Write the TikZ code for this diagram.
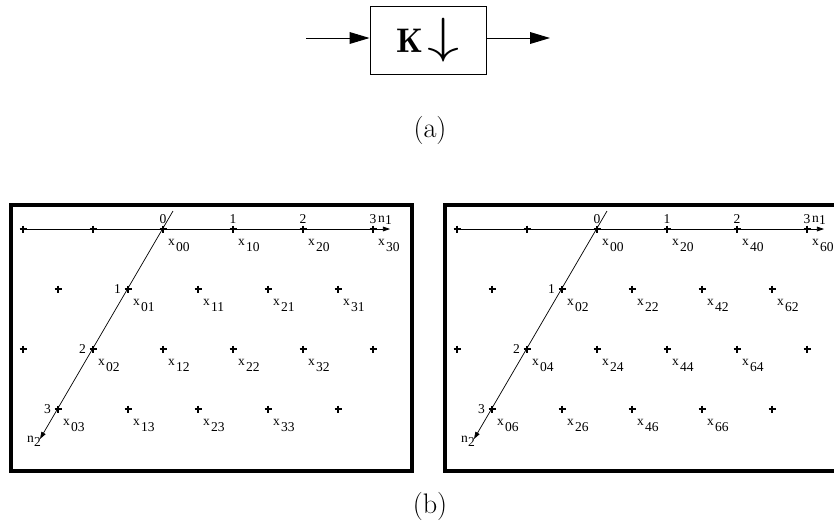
\RequirePackage{fix-cm}
\documentclass[tikz,border=0pt]{standalone}
\usepackage{fontspec}
\newfontfamily\lblfont{Liberation Serif}
\usetikzlibrary{arrows.meta,positioning}

\tikzset{
  lbl/.style={font=\lblfont\fontsize{11.5}{13}\selectfont,inner sep=0pt},
  panel/.style={line width=2.6pt},
  bigarrow/.style={-{Triangle[length=17pt,width=10pt]},line width=0.8pt},
  plusmark/.pic={\draw[line width=1.5pt] (-3.5,0) -- (3.5,0) (0,-3.5) -- (0,3.5);}
}
\newcommand{\xsub}[2]{x\kern1pt\raisebox{-5pt}{#1#2}}

\begin{document}
\begin{tikzpicture}[x=0.85pt,y=-0.85pt,>={Triangle[length=6pt,width=4pt]}]
\useasboundingbox (0,0) rectangle (834,525);
\clip (0,0) rectangle (834,525);
% (a) the decimator
\node[draw,line width=0.8pt,minimum width=98.6pt,minimum height=57.8pt] (dec) at (428,40)
  {\fontsize{29}{32}\selectfont$\mathbf{K}$\hspace{4pt}\fontsize{42}{44}\selectfont\scalebox{1.3}[1]{$\downarrow$}};
\coordinate (in) at (306,38);
\coordinate (out) at (550,38);
\draw[bigarrow] (in) -- (in -| dec.west);
\draw[bigarrow] (out -| dec.east) -- (out);
\node (capa) at (430,130) {\fontsize{24}{28}\selectfont (a)};
% (b) the two lattices
\foreach \shx/\k in {0/1,434/2} {
\begin{scope}[shift={(\shx,0)}]
\draw[panel] (11,205) rectangle (412,471);
\foreach \c/\r in {-2/0,-1/0,0/0,1/0,2/0,3/0,-1/1,0/1,1/1,2/1,3/1,-1/2,0/2,1/2,2/2,3/2,4/2,0/3,1/3,2/3,3/3,4/3} {
  \coordinate (p\k\c\r) at ({163+70*\c-35*\r},{229+60*\r});
  \pic at (p\k\c\r) {plusmark};
}
\coordinate (n1end\k) at (390,229);
\coordinate (n2top\k) at (173,211);
\coordinate (n2end\k) at (40,439);
\draw[->,line width=0.6pt] (p\k-20) -- (n1end\k);
\draw[->,line width=0.6pt] (n2top\k) -- (n2end\k);
\foreach \c in {0,...,3} {
  \node[lbl,anchor=base] at ([shift={(0,-6)}]p\k\c0) {\c};
  \foreach \r in {0,...,3} {
    \pgfmathtruncatemacro\a{\c*\k}
    \pgfmathtruncatemacro\b{\r*\k}
    \node[lbl,anchor=north west] at ([shift={(5,10)}]p\k\c\r) {\xsub{\a}{\b}};
  }
}
\foreach \r in {1,2,3}
  \node[lbl,anchor=base east] at ([shift={(-7,4)}]p\k0\r) {\r};
\node[lbl,anchor=base west] (n1lbl\k) at (378,222) {n\raisebox{-2pt}{1}};
\node[lbl,anchor=base west] (n2lbl\k) at (27,442) {n\raisebox{-4pt}{2}};
\end{scope}
}
\node (capb) at (430,506) {\fontsize{24}{28}\selectfont (b)};
\end{tikzpicture}
\end{document}
